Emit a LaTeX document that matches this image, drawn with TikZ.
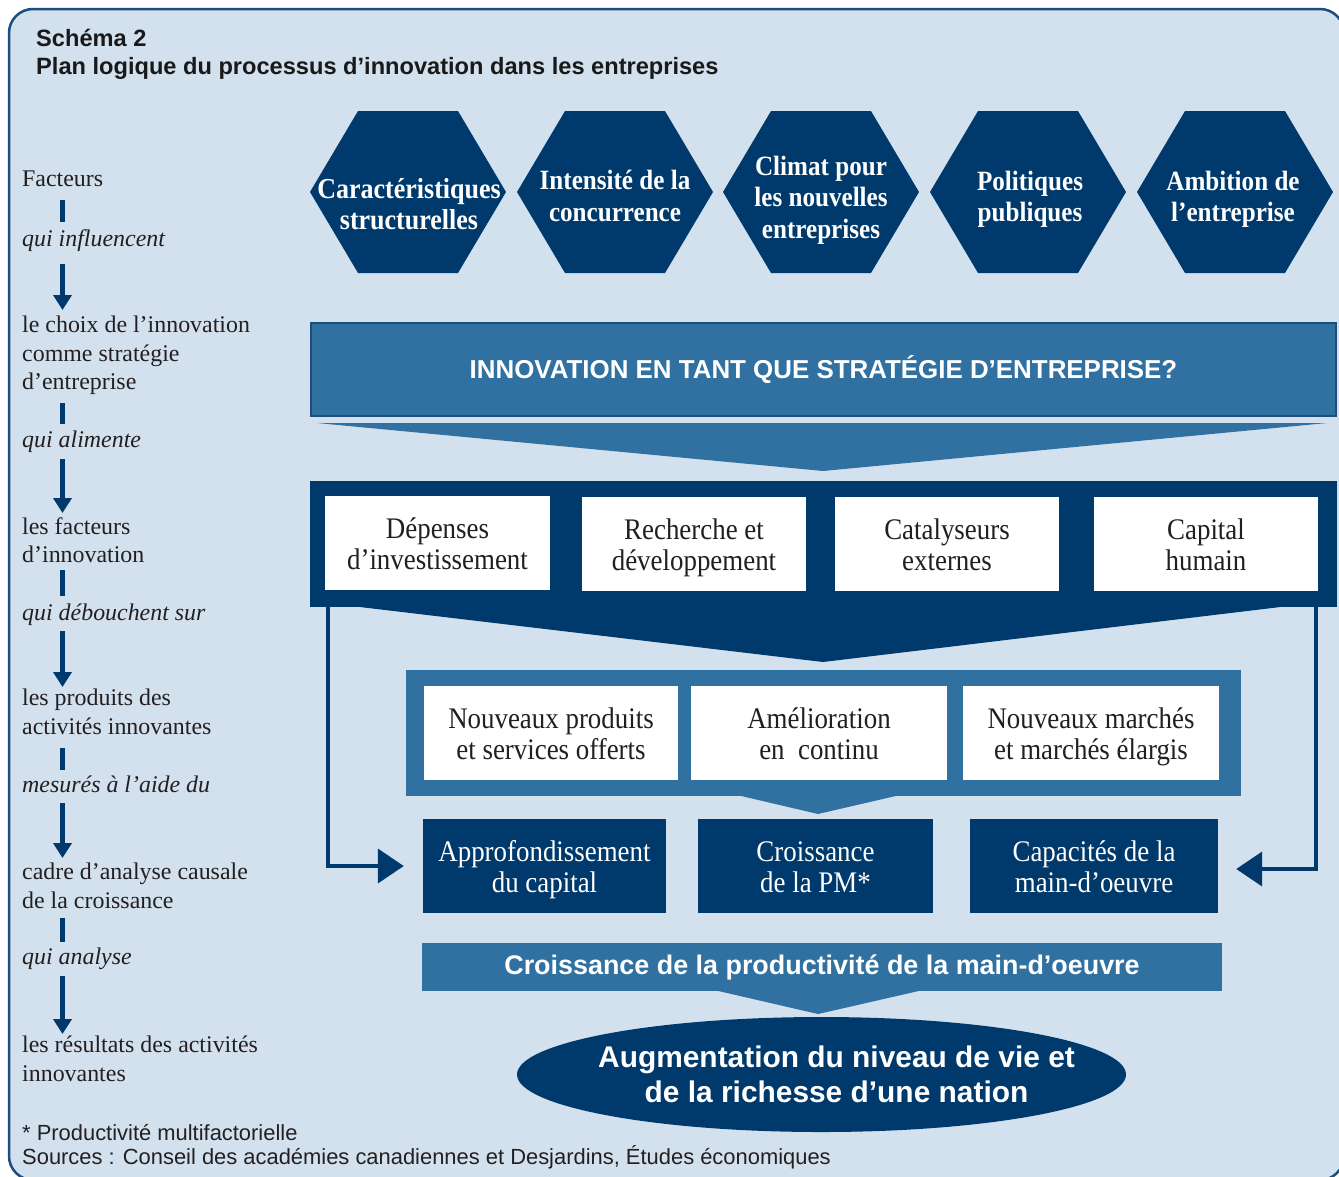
\documentclass[tikz,border=0pt]{standalone}
\usepackage{fontspec}
\setmainfont{Liberation Serif}
\newfontfamily\serc[FakeStretch=0.9]{Liberation Serif}
\newfontfamily\sansf{Liberation Sans}
\usetikzlibrary{shapes.geometric,arrows.meta}
\definecolor{bgblue}{HTML}{D3E1EE}
\definecolor{navy}{HTML}{003A6C}
\definecolor{midblue}{HTML}{3071A2}
\definecolor{framec}{HTML}{1D4E7E}
\definecolor{txt}{HTML}{231F20}
\newcommand\twolines[2]{\strut#1\\\smash{#2}}
\tikzset{
  lefttxt/.style={anchor=north west, inner sep=0, align=left, text=txt, font=\fontsize{24}{28.5}\selectfont},
  leftit/.style={lefttxt, font=\fontsize{24}{28.5}\selectfont\itshape},
  vbar/.style={draw=navy, line width=5.5bp},
  varrow/.style={vbar, -{Triangle[length=15bp,width=18bp]}},
  conn/.style={draw=navy, line width=4bp, line join=miter, -{Triangle[length=26bp,width=34bp]}},
  hextxt/.style={text=white, align=center, inner sep=0, font=\serc\bfseries\fontsize{28}{31.5}\selectfont},
  boxw/.style={fill=white, inner sep=0, align=center, text=txt, minimum height=94bp, font=\serc\fontsize{30}{31.5}\selectfont},
  boxd/.style={fill=navy, inner sep=0, align=center, text=white, minimum height=94bp, font=\serc\fontsize{30}{31.5}\selectfont},
  hexa/.pic={\fill[navy] (-98,0) -- (-50,-81) -- (50,-81) -- (98,0) -- (50,81) -- (-50,81) -- cycle;}
}
\begin{document}
\begin{tikzpicture}[x=1bp,y=-1bp]
\useasboundingbox (0,0) rectangle (1339,1176);
\fill[white] (0,0) rectangle (1339,1176);
\draw[framec, line width=2.5bp, fill=bgblue, rounded corners=24bp] (9,9) rectangle (1344,1180);

% title
\node[anchor=base west, inner sep=0, text=black!90, font=\sansf\bfseries\fontsize{23.7}{28}\selectfont] (t1) at (36,46) {Schéma 2};
\node[anchor=base west, inner sep=0, text=black!90, font=\sansf\bfseries\fontsize{23.7}{28}\selectfont] (t2) at (36,74) {Plan logique du processus d’innovation dans les entreprises};

% left column
\node[lefttxt] (l1) at (22,171) {Facteurs};
\node[leftit]  (l2) at (22,229) {qui influencent};
\node[lefttxt] (l3) at (22,316) {le choix de l’innovation\\comme stratégie\\d’entreprise};
\node[leftit]  (l4) at (22,431) {qui alimente};
\node[lefttxt] (l5) at (22,517) {les facteurs\\d’innovation};
\node[leftit]  (l6) at (22,604) {qui débouchent sur};
\node[lefttxt] (l7) at (22,689) {les produits des\\activités innovantes};
\node[leftit]  (l8) at (22,776) {mesurés à l’aide du};
\node[lefttxt] (l9) at (22,863) {cadre d’analyse causale\\de la croissance};
\node[leftit]  (l10) at (22,948) {qui analyse};
\node[lefttxt] (l11) at (22,1036) {les résultats des activités\\innovantes};

\coordinate (b1a) at (62.5,200); \coordinate (b1b) at (62.5,222);
\coordinate (a1a) at (62.5,264); \coordinate (a1b) at (62.5,310);
\coordinate (b2a) at (62.5,403); \coordinate (b2b) at (62.5,424);
\coordinate (a2a) at (62.5,459); \coordinate (a2b) at (62.5,513);
\coordinate (b3a) at (62.5,570); \coordinate (b3b) at (62.5,596);
\coordinate (a3a) at (62.5,631); \coordinate (a3b) at (62.5,687);
\coordinate (b4a) at (62.5,748); \coordinate (b4b) at (62.5,770);
\coordinate (a4a) at (62.5,803); \coordinate (a4b) at (62.5,858);
\coordinate (b5a) at (62.5,918); \coordinate (b5b) at (62.5,942);
\coordinate (a5a) at (62.5,976); \coordinate (a5b) at (62.5,1034);
\draw[vbar] (b1a) -- (b1b);
\draw[varrow] (a1a) -- (a1b);
\draw[vbar] (b2a) -- (b2b);
\draw[varrow] (a2a) -- (a2b);
\draw[vbar] (b3a) -- (b3b);
\draw[varrow] (a3a) -- (a3b);
\draw[vbar] (b4a) -- (b4b);
\draw[varrow] (a4a) -- (a4b);
\draw[vbar] (b5a) -- (b5b);
\draw[varrow] (a5a) -- (a5b);

% footnotes
\node[anchor=base west, inner sep=0, text=txt, font=\sansf\fontsize{22}{24}\selectfont] (fn) at (22,1140) {* Productivité multifactorielle};
\node[anchor=base west, inner sep=0, text=txt, font=\sansf\fontsize{22}{24}\selectfont] (src) at (22,1164) {Sources : Conseil des académies canadiennes et Desjardins, Études économiques};

% hexagons
\pic at (408,192) {hexa};
\pic at (615,192) {hexa};
\pic at (821,192) {hexa};
\pic at (1028,192) {hexa};
\pic at (1235,192) {hexa};
\node[hextxt, font=\serc\bfseries\fontsize{29}{31.5}\selectfont] (h1) at (409,204) {Caractéristiques\\structurelles};
\node[hextxt] (h2) at (615,196) {Intensité de la\\concurrence};
\node[hextxt] (h3) at (821,200) {Climat pour\\les nouvelles\\entreprises};
\node[hextxt] (h4) at (1030,199) {Politiques\\publiques};
\node[hextxt] (h5) at (1233,199) {Ambition de\\l’entreprise};

% banner
\node[fill=midblue, draw=framec, line width=2bp, minimum width=1025bp, minimum height=93bp, inner sep=0,
      text=white, font=\sansf\bfseries\fontsize{26}{30}\selectfont] (banner) at (823.5,369.5)
      {INNOVATION EN TANT QUE STRATÉGIE D’ENTREPRISE?};
\fill[midblue] (317,423) -- (1327,423) -- (823,471) -- cycle;

% innovation factors
\node[fill=navy, minimum width=1027bp, minimum height=126bp, inner sep=0] (topbox) at (823.5,544) {};
\fill[navy] (343,605) -- (1297,605) -- (823,662) -- cycle;
\node[boxw, minimum width=225bp] (dep) at (437.5,543) {\twolines{Dépenses}{d’investissement}};
\node[boxw, minimum width=224bp] (rd)  at (694,544) {\twolines{Recherche et}{développement}};
\node[boxw, minimum width=224bp] (cat) at (947,544) {\twolines{Catalyseurs}{externes}};
\node[boxw, minimum width=224bp] (hum) at (1206,544) {\twolines{Capital}{humain}};

% products of innovation
\node[fill=midblue, minimum width=835bp, minimum height=126bp, inner sep=0] (midbox) at (823.5,733) {};
\fill[midblue] (737,795) -- (900,795) -- (818,814) -- cycle;
\node[boxw, minimum width=254bp] (np) at (551,733) {\twolines{Nouveaux produits}{et services offerts}};
\node[boxw, minimum width=256bp] (am) at (819,733) {\twolines{Amélioration}{en~ continu}};
\node[boxw, minimum width=256bp] (nm) at (1091,733) {\twolines{Nouveaux marchés}{et marchés élargis}};

% growth accounting
\node[boxd, minimum width=243bp] (ap)  at (544.5,866) {\twolines{Approfondissement}{du capital}};
\node[boxd, minimum width=235bp] (pm)  at (815.5,866) {\twolines{Croissance}{de la PM*}};
\node[boxd, minimum width=248bp] (cap) at (1094,866) {\twolines{Capacités de la}{main-d’oeuvre}};

\draw[conn, shorten >=19bp] ([xshift=18bp]topbox.south west) |- (ap.west);
\draw[conn, shorten >=18bp] ([xshift=-21bp]topbox.south east) |- ([yshift=-3bp]cap.east);

% productivity
\node[fill=midblue, minimum width=800bp, minimum height=48bp, inner sep=0, text=white,
      font=\sansf\bfseries\fontsize{27}{30}\selectfont] (prod) at (822,967)
      {Croissance de la productivité de la main-d’oeuvre};
\fill[midblue] (714,990) -- (923,990) -- (818,1014) -- cycle;

% result
\node[ellipse, fill=navy, minimum width=609bp, minimum height=115bp, inner sep=0] (ell) at (821.5,1074.5) {};
\node[text=white, align=center, inner sep=0, font=\sansf\bfseries\fontsize{30}{35}\selectfont] (elltxt) at ([xshift=15bp]ell.center)
      {Augmentation du niveau de vie et\\de la richesse d’une nation};
\end{tikzpicture}
\end{document}
